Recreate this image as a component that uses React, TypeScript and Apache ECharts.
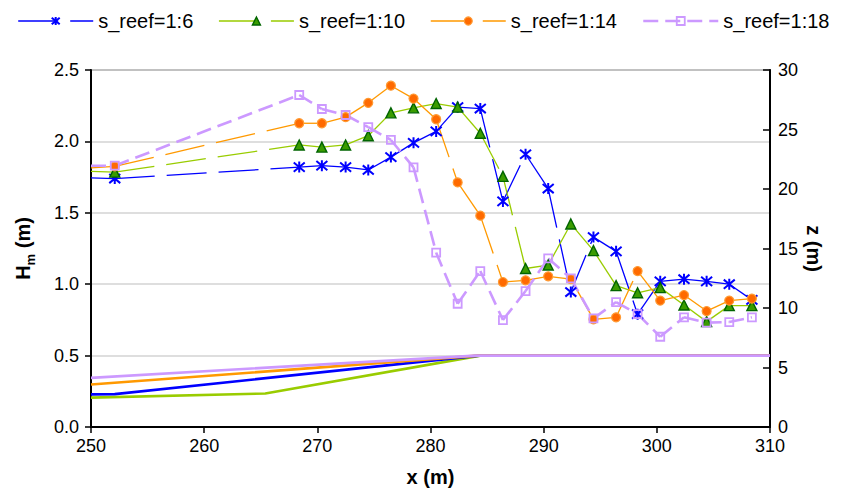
import React, { useEffect, useRef } from 'react';
import * as echarts from 'echarts';

// measured x positions (m)
const xMeas = [252.1, 268.4, 270.4, 272.5, 274.5, 276.5, 278.5, 280.5, 282.4, 284.4, 286.4, 288.4, 290.4, 292.4, 294.4, 296.4, 298.3, 300.3, 302.4, 304.4, 306.4, 308.4];
const xStart = 250;

// Hm (m) values per slope
const hm6 = [1.74, 1.82, 1.83, 1.82, 1.80, 1.89, 1.99, 2.07, 2.24, 2.23, 1.58, 1.91, 1.67, 0.945, 1.33, 1.23, 0.79, 1.02, 1.035, 1.02, 1.0, 0.89];
const hm10 = [1.785, 1.975, 1.96, 1.975, 2.04, 2.2, 2.235, 2.265, 2.24, 2.057, 1.755, 1.11, 1.134, 1.422, 1.235, 0.99, 0.94, 0.976, 0.854, 0.738, 0.85, 0.85];
const hm14 = [1.825, 2.127, 2.127, 2.17, 2.27, 2.39, 2.3, 2.155, 1.713, 1.48, 1.015, 1.027, 1.055, 1.036, 0.754, 0.768, 1.092, 0.885, 0.924, 0.812, 0.885, 0.899];
const hm18 = [1.83, 2.325, 2.227, 2.185, 2.1, 2.01, 1.818, 1.221, 0.863, 1.092, 0.749, 0.952, 1.181, 1.041, 0.761, 0.875, 0.791, 0.632, 0.768, 0.731, 0.735, 0.768];
// values where the lines enter the plot at x = 250
const hmStart = [1.745, 1.79, 1.815, 1.83];

// bed profiles z (m)
const bed6X = [250, 252.1, 284.3, 310];
const bed6Z = [2.74, 2.76, 6, 6];
const bed10X = [250, 265.4, 284.4, 310];
const bed10Z = [2.47, 2.81, 6, 6];
const bed14X = [250, 284.2, 310];
const bed14Z = [3.57, 6, 6];
const bed18X = [250, 284, 310];
const bed18Z = [4.13, 6, 6];

const names = ['s_reef=1:6', 's_reef=1:10', 's_reef=1:14', 's_reef=1:18'];

const FONT = '"Liberation Sans", Arial, Helvetica, sans-serif';

const ASTERISK = 'path://M0,0L10,10M10,0L0,10M5,-1L5,11';

export default function App() {
  const ref = useRef<HTMLDivElement>(null);

  useEffect(() => {
    if (!ref.current) return;
    const chart = echarts.init(ref.current, undefined, { renderer: 'svg' });

    const allHm = [hm6, hm10, hm14, hm18];
    const lineColors = ['#0000ff', '#99cc00', '#ff9900', '#cc99ff'];
    const lineWidths = [1.3, 1.3, 1.3, 2.6];
    const dashes = [[40, 12], [40, 12], [40, 12], [15, 7]];
    const symbols = [ASTERISK, 'triangle', 'circle', 'rect'];
    const symbolSizes = [11, 10, 9, 8];
    const fills = ['#0000ff', '#3a9c00', '#ff6a00', 'rgba(255,255,255,0)'];
    const borders = ['#0000ff', '#006400', '#ff9a33', '#cc99ff'];
    const borderWidths = [2, 1.4, 1.2, 1.8];

    const segSeries: any[] = allHm.map((vals, k) => {
      const pts = [[xStart, hmStart[k]], ...xMeas.map((x, i) => [x, vals[i]])];
      const segs = pts.slice(0, -1).map((p, i) => [p[0], p[1], pts[i + 1][0], pts[i + 1][1]]);
      return {
        type: 'custom',
        name: 'seg' + k,
        coordinateSystem: 'cartesian2d',
        xAxisIndex: 0,
        yAxisIndex: 0,
        data: segs,
        encode: { x: [0, 2], y: [1, 3] },
        silent: true,
        z: 2 + k * 0.1,
        renderItem: (_p: any, api: any) => {
          const a = api.coord([api.value(0), api.value(1)]);
          const b = api.coord([api.value(2), api.value(3)]);
          return {
            type: 'line',
            shape: { x1: a[0], y1: a[1], x2: b[0], y2: b[1] },
            style: { stroke: lineColors[k], lineWidth: lineWidths[k], lineDash: dashes[k], fill: null },
          };
        },
      };
    });

    const markerSeries: any[] = allHm.map((vals, k) => ({
      type: 'line',
      name: names[k],
      xAxisIndex: 0,
      yAxisIndex: 0,
      data: xMeas.map((x, i) => [x, vals[i]]),
      symbol: symbols[k],
      symbolSize: symbolSizes[k],
      showSymbol: true,
      showAllSymbol: true,
      lineStyle: { width: 0, opacity: 0 },
      itemStyle: { color: fills[k], borderColor: borders[k], borderWidth: borderWidths[k] },
      z: 4 + k * 0.1,
      silent: true,
    }));

    const beds = [
      [bed10X, bed10Z, '#99cc00'],
      [bed6X, bed6Z, '#0000ff'],
      [bed14X, bed14Z, '#ff9900'],
      [bed18X, bed18Z, '#cc99ff'],
    ];
    const bedSeries: any[] = beds.map(([xs, zs, c], k) => ({
      type: 'line',
      name: 'bed' + k,
      xAxisIndex: 0,
      yAxisIndex: 1,
      data: (xs as number[]).map((x, i) => [x, (zs as number[])[i]]),
      symbol: 'none',
      lineStyle: { color: c as string, width: 2.6 },
      z: 1 + k * 0.1,
      silent: true,
    }));

    const legendData = names.map((n, k) => ({
      name: n,
      lineStyle: { color: lineColors[k], width: k === 3 ? 2.6 : 1.3, type: dashes[k], opacity: 1 },
      itemStyle: { color: fills[k], borderColor: borders[k], borderWidth: borderWidths[k], opacity: 1 },
    }));

    chart.setOption({
      animation: false,
      backgroundColor: '#fff',
      legend: {
        top: 6,
        left: 'center',
        itemWidth: 75,
        itemHeight: 10,
        itemGap: 25,
        selectedMode: false,
        textStyle: { fontSize: 20, color: '#000', fontFamily: FONT },
        data: legendData,
      },
      grid: { left: 91, right: 77, top: 70, bottom: 65, show: true, borderColor: '#8c8c8c', borderWidth: 2 },
      xAxis: {
        type: 'value',
        min: 250,
        max: 310,
        interval: 10,
        axisLine: { show: true, lineStyle: { color: '#000', width: 2 } },
        axisTick: { show: true, inside: false, length: 6, lineStyle: { color: '#000', width: 1.5 } },
        axisLabel: { fontSize: 18, color: '#000', margin: 10, fontFamily: FONT },
        splitLine: { show: false },
        name: 'x (m)',
        nameLocation: 'middle',
        nameGap: 40,
        nameMoveOverlap: false,
        nameTextStyle: { fontSize: 20, fontWeight: 'bold', color: '#000', fontFamily: FONT },
      },
      yAxis: [
        {
          type: 'value',
          min: 0,
          max: 2.5,
          interval: 0.5,
          position: 'left',
          axisLine: { show: true, lineStyle: { color: '#000', width: 2 } },
          axisTick: { show: true, inside: false, length: 6, lineStyle: { color: '#000', width: 1.5 } },
          axisLabel: { fontSize: 18, color: '#000', margin: 12, fontFamily: FONT, formatter: (v: number) => v.toFixed(1) },
          splitLine: { show: true, lineStyle: { color: '#d3d3d3', width: 1.5 } },
          name: '{a|H}{b|m}{a| (m)}',
          nameLocation: 'middle',
          nameGap: 54,
          nameMoveOverlap: false,
          nameTextStyle: {
            rich: {
              a: { fontSize: 20, fontWeight: 'bold', color: '#000', fontFamily: FONT },
              b: { fontSize: 13, fontWeight: 'bold', color: '#000', fontFamily: FONT, padding: [16, 0, 0, 0] },
            },
          },
        },
        {
          type: 'value',
          min: 0,
          max: 30,
          interval: 5,
          position: 'right',
          axisLine: { show: true, lineStyle: { color: '#000', width: 2 } },
          axisTick: { show: true, inside: true, length: 7, lineStyle: { color: '#000', width: 1.5 } },
          axisLabel: { fontSize: 18, color: '#000', margin: 8, fontFamily: FONT },
          splitLine: { show: false },
          name: 'z (m)',
          nameLocation: 'middle',
          nameRotate: -90,
          nameGap: 34,
          nameMoveOverlap: false,
          nameTextStyle: { fontSize: 20, fontWeight: 'bold', color: '#000', fontFamily: FONT },
        },
      ],
      series: [...bedSeries, ...segSeries, ...markerSeries],
    });

    return () => chart.dispose();
  }, []);

  return (
    <div
      ref={ref}
      style={{ position: 'fixed', left: 0, top: 0, width: 847, height: 492, background: '#fff' }}
    />
  );
}
